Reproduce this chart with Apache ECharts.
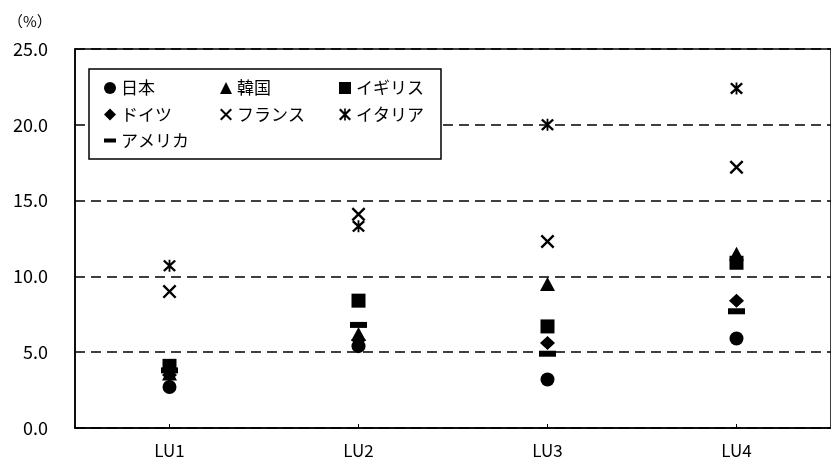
<!DOCTYPE html>
<html><head><meta charset="utf-8">
<script src="https://cdn.jsdelivr.net/npm/echarts@6/dist/echarts.min.js"></script>
<style>html,body{margin:0;padding:0;background:#fff}#c{width:831px;height:459px}</style>
</head><body><div id="c"></div>
<script>
const categories = ['LU1', 'LU2', 'LU3', 'LU4'];
const seriesNames = ['日本', '韓国', 'イギリス', 'ドイツ', 'フランス', 'イタリア', 'アメリカ'];
const japan   = [2.7, 5.4, 3.2, 5.9];
const korea   = [3.6, 6.2, 9.5, 11.5];
const uk      = [4.1, 8.4, 6.7, 10.9];
const germany = [3.5, 5.8, 5.6, 8.4];
const france  = [9.0, 14.1, 12.3, 17.2];
const italy   = [10.7, 13.3, 20.0, 22.4];
const usa     = [3.8, 6.8, 4.9, 7.7];
const yTicks  = [0, 5, 10, 15, 20, 25];

const FONT = '"Noto Sans CJK JP", "Noto Sans", sans-serif';
const CROSS = 'path://M0,12 L12,0 L100,88 L88,100 Z M88,0 L100,12 L12,100 L0,88 Z';
const STAR = 'path://M0,13 L13,0 L100,87 L87,100 Z M87,0 L100,13 L13,100 L0,87 Z M43,0 L57,0 L57,100 L43,100 Z';

const valuesList = [japan, korea, uk, germany, france, italy, usa];
const symbols = ['circle', 'triangle', 'rect', 'diamond', CROSS, STAR, 'rect'];
const sizes = [14, [15, 14], 14, [15, 14], 14, [13, 12], [17, 6]];

const series = seriesNames.map((name, i) => ({
  name: name,
  type: 'scatter',
  data: valuesList[i],
  symbol: symbols[i],
  symbolSize: sizes[i],
  itemStyle: { color: '#000', opacity: 1 },
  emphasis: { disabled: true },
  z: 5 + i
}));

const legendBase = {
  orient: 'vertical',
  top: 78,
  padding: 0,
  itemWidth: 12,
  itemHeight: 12,
  itemGap: 6.5,
  selectedMode: false,
  z: 20,
  textStyle: { fontFamily: FONT, fontSize: 17, color: '#000', lineHeight: 20 }
};

const chart = echarts.init(document.getElementById('c'), null, { renderer: 'canvas' });
chart.setOption({
  animation: false,
  backgroundColor: '#fff',
  title: {
    text: '（%）', left: 3, top: 9,
    textStyle: { fontFamily: FONT, fontSize: 15, fontWeight: 'normal', color: '#000' }
  },
  grid: {
    left: 75, top: 49, bottom: 30, right: -9,
    show: true, borderColor: '#000', borderWidth: 1.5, backgroundColor: 'transparent'
  },
  xAxis: {
    type: 'category',
    data: categories,
    boundaryGap: true,
    axisLine: { lineStyle: { color: '#000', width: 1.5 } },
    axisTick: { show: true, inside: true, alignWithLabel: true, length: 4, lineStyle: { color: '#000', width: 1 } },
    axisLabel: { fontFamily: FONT, fontSize: 17, color: '#000', margin: 14 },
    splitLine: { show: false }
  },
  yAxis: {
    type: 'value',
    min: yTicks[0], max: yTicks[yTicks.length - 1], interval: 5,
    axisLine: { show: true, lineStyle: { color: '#000', width: 1.5 } },
    axisTick: { show: false },
    axisLabel: { fontFamily: FONT, fontSize: 18, color: '#000', margin: 27,
      formatter: v => v.toFixed(1) },
    splitLine: { show: true, lineStyle: { color: '#000', width: 1.5, type: [10, 6] } }
  },
  legend: [
    Object.assign({}, legendBase, { left: 104, data: ['日本', 'ドイツ'] }),
    Object.assign({}, legendBase, { left: 220, data: ['韓国', 'フランス'] }),
    Object.assign({}, legendBase, { left: 339, data: ['イギリス', 'イタリア'] }),
    Object.assign({}, legendBase, { left: 104, top: 130.5, itemHeight: 4, data: ['アメリカ'] })
  ],
  graphic: [{
    type: 'rect', z: 10,
    shape: { x: 89, y: 69, width: 352, height: 90 },
    style: { fill: '#fff', stroke: '#000', lineWidth: 1.5 }
  }],
  series: series
});
</script></body></html>
